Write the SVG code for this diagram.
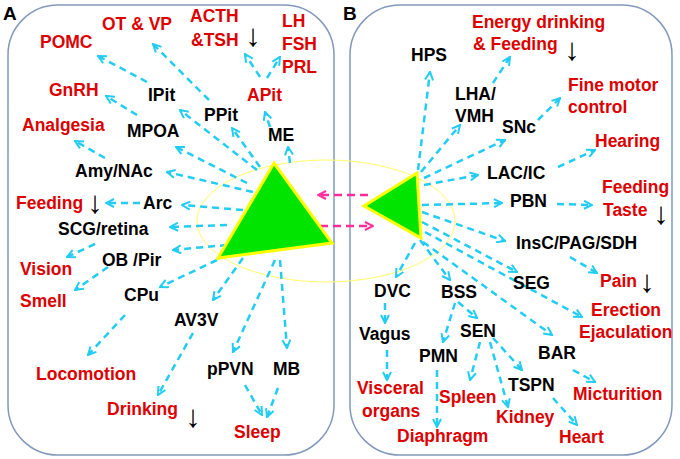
<svg xmlns="http://www.w3.org/2000/svg" width="680" height="459" viewBox="0 0 680 459">
<defs>
<style>
.panel{fill:#fff;stroke:#8399bb;stroke-width:1.5}
.t{font-family:"Liberation Sans",Arial,sans-serif;font-weight:bold;font-size:17.5px}
.k{fill:#000}
.r{fill:#dd0000}
.lbl{font-family:"Liberation Sans",Arial,sans-serif;font-weight:bold;font-size:19px;fill:#000}
.dn{font-family:"Liberation Sans","DejaVu Sans",sans-serif;font-weight:bold;font-size:31px;fill:#000;text-anchor:middle}
.c{fill:none;stroke:#22ccf2;stroke-width:2.5;stroke-dasharray:7 5;marker-end:url(#ah)}
.m{fill:none;stroke:#ff2d9b;stroke-width:2.5;stroke-dasharray:8 5;marker-end:url(#mh)}
.tri{fill:#00e400;stroke:#ffff00;stroke-width:3;stroke-linejoin:miter}
</style>
<marker id="ah" viewBox="0 0 10 10" refX="9" refY="5" markerWidth="10" markerHeight="10" markerUnits="userSpaceOnUse" orient="auto">
<path d="M1,1 L9,5 L1,9" fill="none" stroke="#22ccf2" stroke-width="2"/>
</marker>
<marker id="mh" viewBox="0 0 10 10" refX="9" refY="5" markerWidth="10" markerHeight="10" markerUnits="userSpaceOnUse" orient="auto">
<path d="M1,1 L9,5 L1,9" fill="none" stroke="#ff2d9b" stroke-width="2"/>
</marker>
</defs>
<rect x="0" y="0" width="680" height="459" fill="#fff"/>
<g id="panelA"><rect class="panel" x="8" y="5" width="326" height="450" rx="50" ry="50"/></g>
<g id="panelB"><rect class="panel" x="350" y="5" width="322" height="450" rx="50" ry="50"/></g>
<ellipse cx="326" cy="221" rx="129" ry="61" fill="none" stroke="#ffff66" stroke-width="1"/>
<text class="lbl" x="3" y="20">A</text>
<text class="lbl" x="343" y="20">B</text>
<g id="connectors">
<path class="c" d="M147,82 L98,56"/>
<path class="c" d="M209,100 L153,44"/>
<path class="c" d="M260,77 L245,54"/>
<path class="c" d="M267,78 L280,57"/>
<path class="c" d="M137,115 L106,96"/>
<path class="c" d="M270,127 L265,112"/>
<path class="c" d="M290,163 L288,147"/>
<path class="c" d="M260,167 L232,128"/>
<path class="c" d="M257,170 L180,110"/>
<path class="c" d="M247,183 L176,147"/>
<path class="c" d="M105,158 L75,141"/>
<path class="c" d="M253,192 L167,172"/>
<path class="c" d="M243,210 L182,205"/>
<path class="c" d="M140,203 L106,203"/>
<path class="c" d="M227,225 L170,227"/>
<path class="c" d="M227,245 L173,250"/>
<path class="c" d="M95,244 L67,257"/>
<path class="c" d="M108,267 L75,290"/>
<path class="c" d="M217,260 L160,287"/>
<path class="c" d="M243,258 L213,300"/>
<path class="c" d="M275,260 L233,352"/>
<path class="c" d="M280,260 L287,348"/>
<path class="c" d="M125,315 L88,355"/>
<path class="c" d="M193,333 L158,395"/>
<path class="c" d="M245,385 L262,415"/>
<path class="c" d="M278,388 L267,417"/>
<path class="c" d="M418,170 L430,72"/>
<path class="c" d="M421,172 L460,125"/>
<path class="c" d="M424,178 L505,140"/>
<path class="c" d="M424,185 L478,175"/>
<path class="c" d="M493,83 L510,57"/>
<path class="c" d="M538,120 L560,98"/>
<path class="c" d="M558,167 L595,150"/>
<path class="c" d="M422,205 L502,203"/>
<path class="c" d="M557,204 L592,205"/>
<path class="c" d="M422,212 L505,241"/>
<path class="c" d="M570,257 L597,273"/>
<path class="c" d="M422,222 L517,272"/>
<path class="c" d="M425,232 L582,317"/>
<path class="c" d="M423,242 L552,335"/>
<path class="c" d="M420,240 L450,280"/>
<path class="c" d="M415,243 L396,277"/>
<path class="c" d="M385,303 L385,323"/>
<path class="c" d="M458,302 L477,318"/>
<path class="c" d="M455,303 L443,342"/>
<path class="c" d="M387,350 L387,380"/>
<path class="c" d="M437,370 L437,427"/>
<path class="c" d="M480,342 L470,380"/>
<path class="c" d="M490,342 L508,407"/>
<path class="c" d="M493,338 L522,370"/>
<path class="c" d="M553,398 L577,425"/>
<path class="c" d="M573,370 L595,382"/>
<path class="m" d="M368,195 L318,195"/>
<path class="m" d="M320,226 L373,226"/>
</g>
<g id="triA"><polygon class="tri" points="274,163 218,258 332,243"/></g>
<g id="triB"><polygon class="tri" points="417,173 364,206 421,238"/></g>
<g id="nodesA">
<g id="POMC"><text class="t r" x="40" y="48">POMC</text></g>
<g id="OTVP"><text class="t r" x="102" y="30">OT &amp; VP</text></g>
<g id="ACTH"><text class="t r" x="190" y="22">ACTH</text><text class="t r" x="191" y="46">&amp;TSH</text><text class="dn" x="253" y="46">↓</text></g>
<g id="LH"><text class="t r" x="282" y="27">LH</text><text class="t r" x="282" y="50">FSH</text><text class="t r" x="282" y="73">PRL</text></g>
<g id="GnRH"><text class="t r" x="49" y="96">GnRH</text></g>
<g id="IPit"><text class="t k" x="148" y="101">IPit</text></g>
<g id="APit"><text class="t r" x="247" y="101">APit</text></g>
<g id="PPit"><text class="t k" x="204" y="121">PPit</text></g>
<g id="Analgesia"><text class="t r" x="22" y="131">Analgesia</text></g>
<g id="MPOA"><text class="t k" x="127" y="137">MPOA</text></g>
<g id="ME"><text class="t k" x="268" y="141">ME</text></g>
<g id="AmyNAc"><text class="t k" x="75" y="177">Amy/NAc</text></g>
<g id="FeedingA"><text class="t r" x="16" y="209">Feeding</text><text class="dn" x="95" y="213">↓</text></g>
<g id="Arc"><text class="t k" x="143" y="209">Arc</text></g>
<g id="SCG"><text class="t k" x="58" y="235">SCG/retina</text></g>
<g id="OBPir"><text class="t k" x="102" y="266">OB /Pir</text></g>
<g id="Vision"><text class="t r" x="20" y="275">Vision</text></g>
<g id="CPu"><text class="t k" x="124" y="301">CPu</text></g>
<g id="Smell"><text class="t r" x="20" y="307">Smell</text></g>
<g id="AV3V"><text class="t k" x="174" y="326">AV3V</text></g>
<g id="Locomotion"><text class="t r" x="36" y="380">Locomotion</text></g>
<g id="pPVN"><text class="t k" x="207" y="375">pPVN</text></g>
<g id="MB"><text class="t k" x="273" y="375">MB</text></g>
<g id="Drinking"><text class="t r" x="107" y="415">Drinking</text><text class="dn" x="193" y="427">↓</text></g>
<g id="Sleep"><text class="t r" x="234" y="438">Sleep</text></g>
</g>
<g id="nodesB">
<g id="Energy"><text class="t r" x="472" y="28">Energy drinking</text><text class="t r" x="473" y="50">&amp; Feeding</text><text class="dn" x="572" y="60">↓</text></g>
<g id="HPS"><text class="t k" x="411" y="61">HPS</text></g>
<g id="LHAVMH"><text class="t k" x="455" y="100">LHA/</text><text class="t k" x="455" y="122">VMH</text></g>
<g id="SNc"><text class="t k" x="502" y="133">SNc</text></g>
<g id="Fine"><text class="t r" x="568" y="91">Fine motor</text><text class="t r" x="568" y="113">control</text></g>
<g id="Hearing"><text class="t r" x="595" y="147">Hearing</text></g>
<g id="LACIC"><text class="t k" x="487" y="179">LAC/IC</text></g>
<g id="PBN"><text class="t k" x="510" y="207">PBN</text></g>
<g id="FeedingB"><text class="t r" x="602" y="193">Feeding</text><text class="t r" x="603" y="216">Taste</text><text class="dn" x="661" y="224">↓</text></g>
<g id="InsC"><text class="t k" x="516" y="249">InsC/PAG/SDH</text></g>
<g id="Pain"><text class="t r" x="600" y="287">Pain</text><text class="dn" x="647" y="292">↓</text></g>
<g id="DVC"><text class="t k" x="374" y="297">DVC</text></g>
<g id="BSS"><text class="t k" x="441" y="298">BSS</text></g>
<g id="SEG"><text class="t k" x="513" y="289">SEG</text></g>
<g id="Erection"><text class="t r" x="591" y="316">Erection</text><text class="t r" x="579" y="338">Ejaculation</text></g>
<g id="Vagus"><text class="t k" x="359" y="340">Vagus</text></g>
<g id="SEN"><text class="t k" x="460" y="337">SEN</text></g>
<g id="PMN"><text class="t k" x="419" y="362">PMN</text></g>
<g id="BAR"><text class="t k" x="538" y="359">BAR</text></g>
<g id="Visceral"><text class="t r" x="357" y="394">Visceral</text><text class="t r" x="362" y="417">organs</text></g>
<g id="Spleen"><text class="t r" x="439" y="403">Spleen</text></g>
<g id="TSPN"><text class="t k" x="508" y="391">TSPN</text></g>
<g id="Micturition"><text class="t r" x="573" y="400">Micturition</text></g>
<g id="Kidney"><text class="t r" x="496" y="423">Kidney</text></g>
<g id="Diaphragm"><text class="t r" x="397" y="442">Diaphragm</text></g>
<g id="Heart"><text class="t r" x="559" y="443">Heart</text></g>
</g>
</svg>
